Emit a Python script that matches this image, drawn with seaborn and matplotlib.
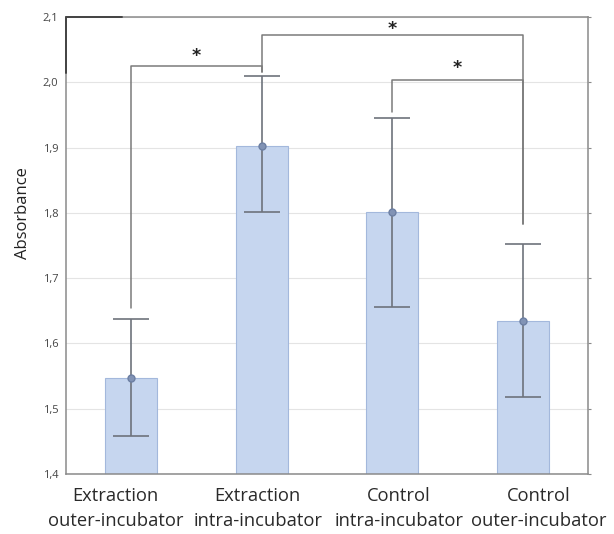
import matplotlib
matplotlib.use("Agg")
import matplotlib.pyplot as plt
import seaborn as sns
import pandas as pd
from matplotlib.ticker import FuncFormatter, MultipleLocator

# Data
groups = ["Extraction\nouter-incubator", "Extraction\nintra-incubator",
          "Control\nintra-incubator", "Control\nouter-incubator"]
means = [1.547, 1.903, 1.801, 1.635]
err_low = [1.458, 1.801, 1.656, 1.518]
err_high = [1.638, 2.009, 1.946, 1.752]

# significance brackets: (left bar, right bar, bracket height, left leg end, right leg end, star y)
brackets = [
    (0, 1, 2.025, 1.654, 2.016, 2.040),
    (1, 3, 2.073, 2.016, 1.783, 2.082),
    (2, 3, 2.004, 1.955, 1.783, 2.022),
]

# category labels sit a bit wider apart than the bars in the original
label_shift = [-0.12, -0.03, 0.05, 0.12]

sns.set_style("white")
plt.rcParams["font.family"] = ["Open Sans", "DejaVu Sans"]

df = pd.DataFrame({"group": groups, "mean": means})

fig = plt.figure(figsize=(6.14, 5.34), dpi=100)
ax = fig.add_axes([0.1075, 0.1124, 0.8502, 0.8556])

sns.barplot(data=df, x="group", y="mean", color="#c6d6ef", width=0.4,
            edgecolor="#a3b8dc", linewidth=0.8, saturation=1, ax=ax, zorder=2)

lo = [m - l for m, l in zip(means, err_low)]
hi = [h - m for m, h in zip(means, err_high)]
ax.errorbar(range(len(means)), means, yerr=[lo, hi], fmt="o", color="#6e737c",
            ecolor="#6e737c", elinewidth=1.2, capsize=13, capthick=1.2,
            markersize=5, markerfacecolor="#8193b5", markeredgecolor="#6c7fa3", zorder=3)

# brackets with stars
for a, b, h, la, lb, sy in brackets:
    ax.plot([a, a, b, b], [la, h, h, lb], color="#7a7a7a", lw=1.1, zorder=4)
    ax.text((a + b) / 2, sy, "*", ha="center", va="center", fontsize=12.5,
            fontweight="bold", color="#222222", family="DejaVu Sans")

# dark corner segment on the frame
ax.plot([-0.07, -0.5, -0.5], [2.1, 2.1, 2.015], color="#444444", lw=1.4,
        clip_on=False, zorder=5)

ax.set_xlim(-0.5, 3.5)
ax.set_ylim(1.4, 2.1)
ax.yaxis.set_major_locator(MultipleLocator(0.1))
ax.yaxis.set_major_formatter(FuncFormatter(lambda v, p: f"{v:.1f}".replace(".", ",")))
ax.yaxis.grid(True, color="#e4e4e4", lw=0.8, zorder=0)
ax.set_axisbelow(True)

for s in ax.spines.values():
    s.set_visible(True)
    s.set_color("#8a8a8a")
    s.set_linewidth(1.1)

ax.tick_params(axis="y", labelsize=8, labelcolor="#444444", length=2,
               color="#8a8a8a", direction="out", right=True)
ax.tick_params(axis="x", length=2, color="#8a8a8a", direction="in", labelbottom=False)

for i, g in enumerate(groups):
    ax.text(i + label_shift[i], -0.028, g, transform=ax.get_xaxis_transform(),
            ha="center", va="top", fontsize=13.2, color="#2a2a2a", linespacing=1.5)

ax.set_xlabel("")
ax.set_ylabel("Absorbance", fontsize=12, color="#222222")
ax.yaxis.set_label_coords(-0.068, 0.57)

fig.savefig("out.png", dpi=100)
